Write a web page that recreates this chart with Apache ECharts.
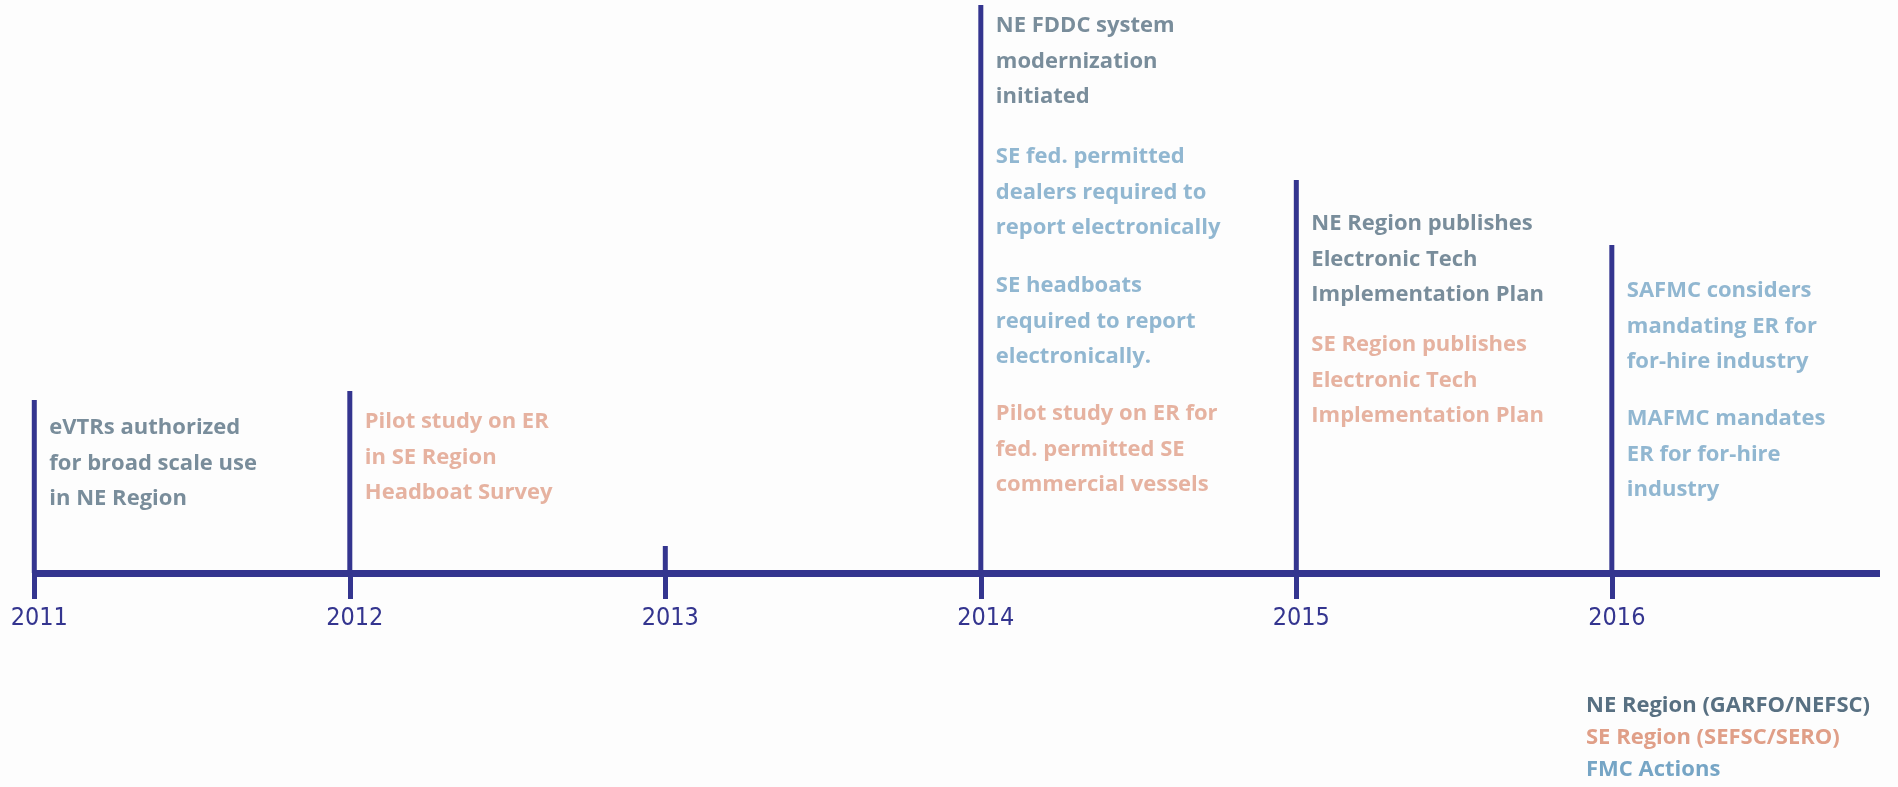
<!DOCTYPE html>
<html>
<head>
<meta charset="utf-8">
<script src="https://cdn.jsdelivr.net/npm/echarts@6/dist/echarts.min.js"></script>
<style>
html,body{margin:0;padding:0;background:#fdfdfd;}
#chart{width:1898px;height:787px;}
</style>
</head>
<body>
<div id="chart"></div>
<script>
// ---- data ----
const years = [2011, 2012, 2013, 2014, 2015, 2016];
const eventHeights = [173, 182, 27, 568, 393, 328];

// notes: [year, height of first text line above the axis, text]
const neNotes = [
  [2011, 145, "eVTRs authorized\nfor broad scale use\nin NE Region"],
  [2014, 547, "NE FDDC system\nmodernization\ninitiated"],
  [2015, 349, "NE Region publishes\nElectronic Tech\nImplementation Plan"]
];
const seNotes = [
  [2012, 151, "Pilot study on ER\nin SE Region\nHeadboat Survey"],
  [2014, 159, "Pilot study on ER for\nfed. permitted SE\ncommercial vessels"],
  [2015, 228, "SE Region publishes\nElectronic Tech\nImplementation Plan"]
];
const fmcNotes = [
  [2014, 416, "SE fed. permitted\ndealers required to\nreport electronically"],
  [2014, 287, "SE headboats\nrequired to report\nelectronically."],
  [2016, 282, "SAFMC considers\nmandating ER for\nfor-hire industry"],
  [2016, 154, "MAFMC mandates\nER for for-hire\nindustry"]
];
const legendNames = ["NE Region (GARFO/NEFSC)", "SE Region (SEFSC/SERO)", "FMC Actions"];

// ---- styles ----
const NAVY = '#34358f';
const COLORS = ['#587082', '#e09f88', '#76a5c5'];
const FONT = "'Open Sans', 'Noto Sans', sans-serif";

function noteSeries(name, notes, color) {
  return {
    type: 'scatter',
    name: name,
    symbol: 'circle',
    symbolSize: 0,
    itemStyle: { color: color },
    silent: true,
    data: notes.map(n => ({ value: [n[0], n[1]], text: n[2] })),
    label: {
      show: true,
      position: [15, -17.75],
      align: 'left',
      verticalAlign: 'top',
      color: color,
      fontFamily: FONT,
      fontWeight: 'bold',
      fontSize: 22,
      lineHeight: 35.5,
      formatter: p => p.data.text
    }
  };
}

const chart = echarts.init(document.getElementById('chart'), null, { renderer: 'canvas' });
chart.setOption({
  animation: false,
  backgroundColor: '#fdfdfd',
  grid: { left: 34.3, right: 18, top: 0, bottom: 214 },
  xAxis: {
    type: 'value',
    min: 2011,
    max: 2016.85,
    interval: 1,
    splitLine: { show: false },
    axisLine: { show: true, onZero: false, lineStyle: { color: NAVY, width: 7, cap: 'butt' } },
    axisTick: { show: true, length: 26, lineStyle: { color: NAVY, width: 5 }, customValues: years },
    axisLabel: {
      customValues: years,
      margin: 33,
      color: NAVY,
      fontSize: 25,
      padding: [0, 0, 0, 10],
      fontFamily: "'Liberation Sans Narrow', 'DejaVu Sans Condensed', 'Noto Sans', sans-serif",
      formatter: v => String(v)
    }
  },
  yAxis: {
    type: 'value', min: 0, max: 573, show: false,
    splitLine: { show: false }
  },
  legend: {
    orient: 'vertical',
    left: 1581,
    top: 690,
    padding: 0,
    itemGap: 0,
    itemWidth: 0,
    itemHeight: 32,
    icon: 'none',
    selectedMode: false,
    textStyle: { fontFamily: FONT, fontWeight: 'bold', fontSize: 22, lineHeight: 32 },
    data: legendNames.map((n, i) => ({ name: n, textStyle: { color: COLORS[i] } }))
  },
  series: [
    {
      type: 'bar',
      name: 'events',
      barWidth: 5,
      silent: true,
      itemStyle: { color: NAVY },
      data: years.map((y, i) => [y, eventHeights[i]])
    },
    noteSeries(legendNames[0], neNotes, COLORS[0]),
    noteSeries(legendNames[1], seNotes, COLORS[1]),
    noteSeries(legendNames[2], fmcNotes, COLORS[2])
  ]
});
</script>
</body>
</html>
